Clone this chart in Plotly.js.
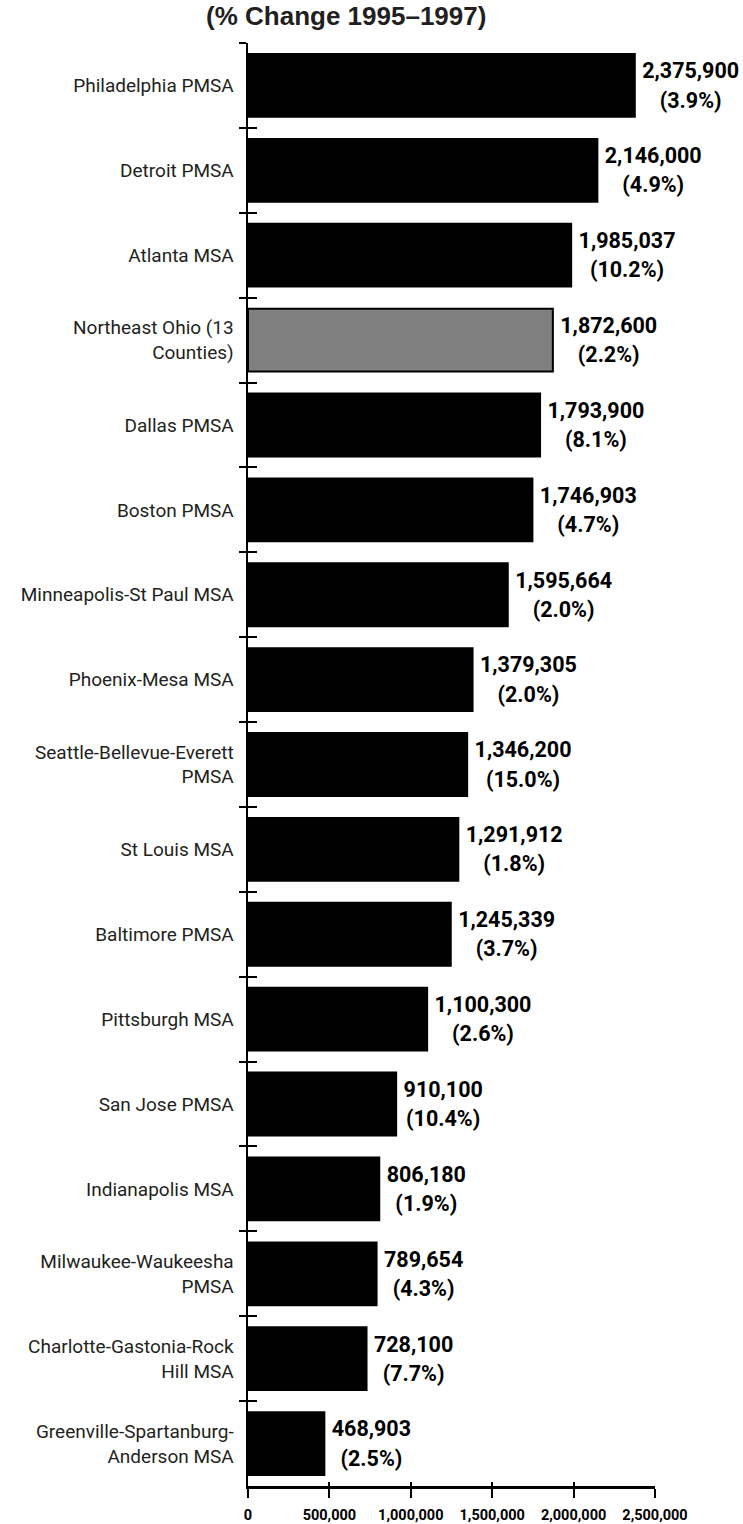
<!DOCTYPE html>
<html>
<head>
<meta charset="utf-8">
<script src="https://cdn.plot.ly/plotly-3.0.1.min.js"></script>
<style>
  html, body { margin: 0; padding: 0; background: #fff; }
  #chart { width: 743px; height: 1524px; }
</style>
</head>
<body>
<div id="chart"></div>
<script>
// ---- Data ----
const categories = [
  "Philadelphia PMSA",
  "Detroit PMSA",
  "Atlanta MSA",
  "Northeast Ohio (13<br>Counties)",
  "Dallas PMSA",
  "Boston PMSA",
  "Minneapolis-St Paul MSA",
  "Phoenix-Mesa MSA",
  "Seattle-Bellevue-Everett<br>PMSA",
  "St Louis MSA",
  "Baltimore PMSA",
  "Pittsburgh MSA",
  "San Jose PMSA",
  "Indianapolis MSA",
  "Milwaukee-Waukeesha<br>PMSA",
  "Charlotte-Gastonia-Rock<br>Hill MSA",
  "Greenville-Spartanburg-<br>Anderson MSA"
];
const employment = [
  2375900, 2146000, 1985037, 1872600, 1793900, 1746903, 1595664, 1379305,
  1346200, 1291912, 1245339, 1100300, 910100, 806180, 789654, 728100, 468903
];
const pctChange = [
  3.9, 4.9, 10.2, 2.2, 8.1, 4.7, 2.0, 2.0,
  15.0, 1.8, 3.7, 2.6, 10.4, 1.9, 4.3, 7.7, 2.5
];
const highlighted = "Northeast Ohio (13<br>Counties)";
const xTickValues = [0, 500000, 1000000, 1500000, 2000000, 2500000];
const titleText = "(% Change 1995–1997)";

// ---- Derived presentation ----
const labelSpan = s => '<span style="font-size:21.5px">\u2009' + s + '</span>';
const barText = employment.map((v, i) =>
  labelSpan(v.toLocaleString('en-US')) + '<br>' + labelSpan('(' + pctChange[i].toFixed(1) + '%)')
);
const barColors = categories.map(c => c === highlighted ? '#808080' : '#000000');
const catRange = [categories.length - 0.5, -0.5];

const FONT = 'Roboto, "Liberation Sans", sans-serif';

const traces = [
  {
    type: 'bar',
    orientation: 'h',
    x: employment,
    y: categories,
    text: barText,
    textposition: 'outside',
    cliponaxis: false,
    constraintext: 'none',
    textfont: { family: FONT, size: 22.5, color: '#000', weight: 'bold' },
    marker: { color: barColors, line: { color: '#000', width: 2 } },
    hoverinfo: 'skip',
    showlegend: false
  },
  {
    // invisible companion trace for the inner half of the crossing ticks
    type: 'scatter',
    mode: 'none',
    x: employment,
    y: categories,
    xaxis: 'x2',
    yaxis: 'y2',
    hoverinfo: 'skip',
    showlegend: false
  }
];

const layout = {
  width: 743,
  height: 1524,
  margin: { l: 248, r: 88, t: 42.5, b: 38, pad: 0 },
  paper_bgcolor: '#ffffff',
  plot_bgcolor: '#ffffff',
  bargap: 0.26,
  hovermode: false,
  title: {
    text: titleText,
    font: { family: '"Liberation Sans", Arial, sans-serif', size: 26, color: '#231f20', weight: 'bold' },
    x: 0.466, xanchor: 'center', xref: 'container',
    y: 1 - 16 / 1524, yanchor: 'middle', yref: 'container'
  },
  xaxis: {
    range: [0, 2500000],
    tickmode: 'array',
    tickvals: xTickValues,
    ticktext: xTickValues.map(v => v.toLocaleString('en-US')),
    ticks: 'outside', ticklen: 9, tickwidth: 2, tickcolor: '#000',
    ticklabelstandoff: 5,
    tickfont: { family: FONT, size: 14.5, color: '#000', weight: 'bold' },
    showline: true, linewidth: 2.5, linecolor: '#000',
    showgrid: false, zeroline: false, fixedrange: true
  },
  xaxis2: {
    overlaying: 'x', anchor: 'y', side: 'bottom',
    range: [0, 2500000],
    tickmode: 'array', tickvals: xTickValues,
    ticks: 'inside', ticklen: 4, tickwidth: 2, tickcolor: '#000',
    showticklabels: false, showline: false, showgrid: false, zeroline: false
  },
  yaxis: {
    type: 'category',
    range: catRange,
    tickson: 'boundaries',
    ticks: 'outside', ticklen: 7, tickwidth: 2, tickcolor: '#000',
    ticklabelstandoff: 8,
    tickfont: { family: FONT, size: 19, color: '#231f20' },
    showline: true, linewidth: 2.5, linecolor: '#000',
    showgrid: false, zeroline: false, fixedrange: true
  },
  yaxis2: {
    type: 'category',
    overlaying: 'y', anchor: 'x', side: 'left',
    range: catRange,
    tickson: 'boundaries',
    ticks: 'inside', ticklen: 9, tickwidth: 2, tickcolor: '#000',
    showticklabels: false, showline: false, showgrid: false, zeroline: false
  }
};

Plotly.newPlot('chart', traces, layout, { staticPlot: true, displayModeBar: false });
</script>
</body>
</html>
